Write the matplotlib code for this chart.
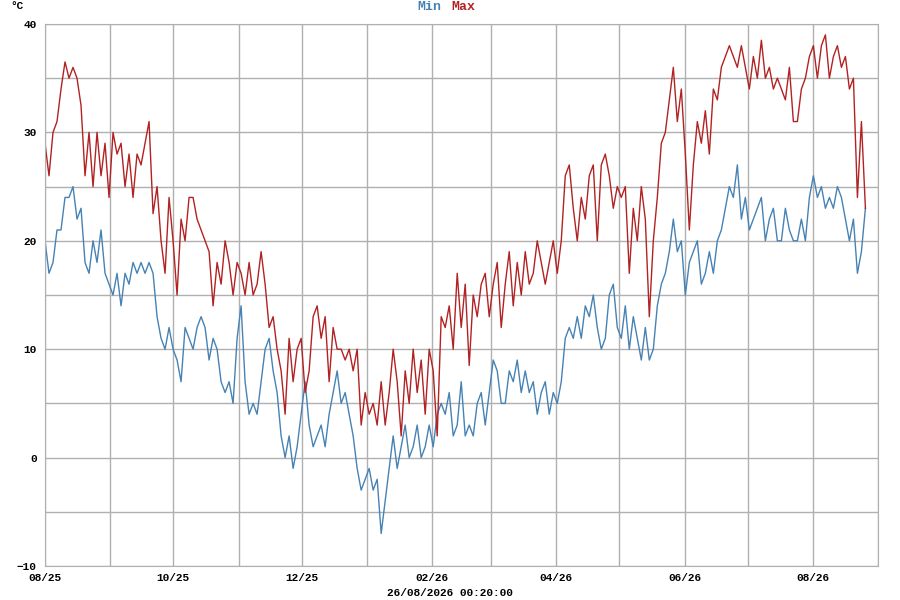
import matplotlib
matplotlib.use("Agg")
import matplotlib.pyplot as plt
import matplotlib.dates as mdates
import pandas as pd
import numpy as np

max_vals = [29,26,30,31,34,36.5,35,36,35,32.5,26,30,25,30,26,29,24,30,28,29,25,28,24,28,27,29,31,22.5,25,20,17,24,20,15,22,20,24,24,22,21,20,19,14,18,16,20,18,15,18,17,15,18,15,16,19,16,12,13,10,8,4,11,7,10,11,6,8,13,14,11,13,7,12,10,10,9,10,8,10,3,6,4,5,3,7,3,6,10,7,2,8,5,10,6,9,4,10,8,2,13,12,14,10,17,12,16,8.5,15,13,16,17,13,16,18,12,16,19,14,18,15,19,16,17,20,18,16,18,20,17,20,26,27,23,20,24,22,26,27,20,27,28,26,23,25,24,25,17,23,20,25,22,13,20,24,29,30,33,36,31,34,28,21,27,31,29,32,28,34,33,36,37,38,37,36,38,36,34,37,35,38.5,35,36,34,35,34,33,36,31,31,34,35,37,38,35,38,39,35,37,38,36,37,34,35,24,31,23]
min_vals = [20,17,18,21,21,24,24,25,22,23,18,17,20,18,21,17,16,15,17,14,17,16,18,17,18,17,18,17,13,11,10,12,10,9,7,12,11,10,12,13,12,9,11,10,7,6,7,5,11,14,7,4,5,4,7,10,11,8,6,2,0,2,-1,1,4,7,3,1,2,3,1,4,6,8,5,6,4,2,-1,-3,-2,-1,-3,-2,-7,-4,-1,2,-1,1,3,0,1,3,0,1,3,1,4,5,4,6,2,3,7,2,3,2,5,6,3,6,9,8,5,5,8,7,9,6,8,6,7,4,6,7,4,6,5,7,11,12,11,13,11,14,13,15,12,10,11,15,16,12,11,14,10,13,11,9,12,9,10,14,16,17,19,22,19,20,15,18,19,20,16,17,19,17,20,21,23,25,24,27,22,24,21,22,23,24,20,22,23,20,20,23,21,20,20,22,20,24,26,24,25,23,24,23,25,24,22,20,22,17,19,23]
start, end = "2025-08-01", "2026-08-26"
dates = pd.date_range(start, end, periods=len(max_vals))

mono = "Liberation Mono"
fig = plt.figure(figsize=(9, 6), dpi=100)
ax = fig.add_axes([0.05, 0.0567, 0.9256, 0.9033])
ax.plot(dates, min_vals, color="#4682b4", lw=1.0)
ax.plot(dates, max_vals, color="#b22222", lw=1.0)
ax.set_xlim(pd.Timestamp("2025-08-01"), pd.Timestamp("2026-09-01"))
ax.set_ylim(-10, 40)
ax.set_yticks(range(-10, 41, 10))
ax.set_yticks(range(-10, 41, 5), minor=True)
ax.xaxis.set_major_locator(mdates.MonthLocator(bymonth=[2,4,6,8,10,12]))
ax.xaxis.set_minor_locator(mdates.MonthLocator())
ax.xaxis.set_major_formatter(mdates.DateFormatter("%m/%y"))
ax.grid(True, which="both", color="#b0b0b0", lw=1)
ax.set_axisbelow(True)
for s in ax.spines.values():
    s.set_color("#b0b0b0")
ax.tick_params(which="both", length=0, labelsize=8)
ax.tick_params(axis="x", pad=5)
ax.tick_params(axis="y", pad=6)
for lab in ax.get_xticklabels() + ax.get_yticklabels():
    lab.set_fontfamily(mono); lab.set_fontweight("bold")
fig.text(0.49, 0.988, "Min", color="#4682b4", ha="right", va="center", fontfamily=mono, fontweight="bold", fontsize=9.5)
fig.text(0.502, 0.988, "Max", color="#b22222", ha="left", va="center", fontfamily=mono, fontweight="bold", fontsize=9.5)
fig.text(0.012, 0.99, "°C", ha="left", va="center", fontfamily=mono, fontweight="bold", fontsize=8)
fig.text(0.5, 0.003, "26/08/2026 00:20:00", ha="center", va="bottom", fontfamily=mono, fontweight="bold", fontsize=8)
fig.savefig("out.png", dpi=100)
